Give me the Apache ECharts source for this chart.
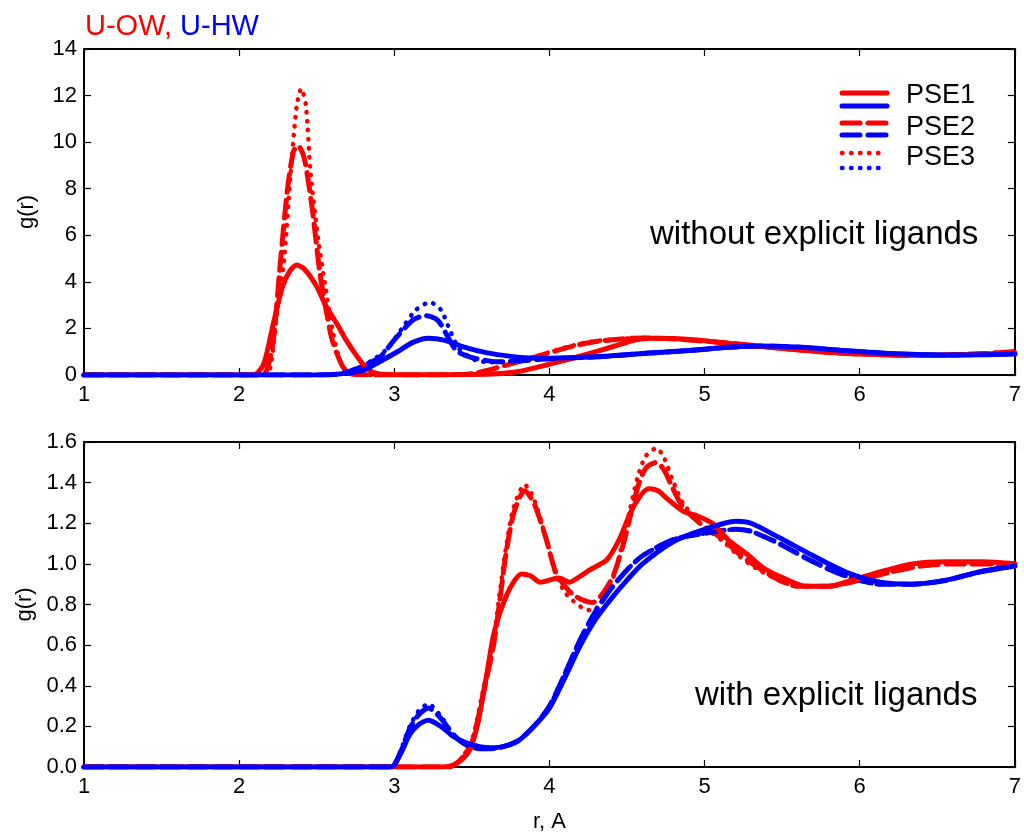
<!DOCTYPE html>
<html>
<head>
<meta charset="utf-8">
<script src="https://cdn.jsdelivr.net/npm/echarts@6/dist/echarts.min.js"></script>
<style>
  html, body { margin: 0; padding: 0; background: #fff; }
  #chart { width: 1024px; height: 834px; }
</style>
</head>
<body>
<div id="chart"></div>
<script>
// g(r) curves, [r, g] pairs
// top panel: without explicit ligands
const topOW1 = [[1,0],[2.0,0],[2.1,0.02],[2.16,0.5],[2.22,2.2],[2.28,3.8],[2.33,4.5],[2.37,4.72],[2.42,4.55],[2.5,3.8],[2.56,2.95],[2.63,2.2],[2.69,1.5],[2.76,0.8],[2.82,0.3],[2.88,0.08],[2.95,0.02],[3.2,0.01],[3.5,0.02],[3.66,0.05],[3.8,0.15],[3.98,0.43],[4.15,0.72],[4.3,1.0],[4.45,1.3],[4.55,1.5],[4.65,1.58],[4.8,1.57],[4.95,1.5],[5.1,1.4],[5.3,1.27],[5.6,1.08],[5.9,0.93],[6.2,0.86],[6.5,0.85],[6.8,0.9],[7,0.96]];
const topHW1 = [[1,0],[2.5,0],[2.6,0.02],[2.7,0.08],[2.8,0.2],[2.9,0.55],[3.02,1.0],[3.12,1.4],[3.22,1.58],[3.32,1.5],[3.45,1.2],[3.6,0.95],[3.75,0.8],[3.87,0.73],[4.0,0.72],[4.3,0.78],[4.6,0.92],[4.9,1.05],[5.16,1.2],[5.35,1.25],[5.6,1.2],[5.9,1.05],[6.2,0.92],[6.5,0.86],[6.8,0.87],[7,0.9]];
const topOW2 = [[1,0],[2.1,0],[2.17,0.1],[2.22,1.5],[2.26,4.4],[2.31,7.9],[2.35,9.6],[2.38,9.85],[2.42,9.3],[2.47,7.2],[2.52,4.4],[2.56,2.8],[2.6,1.5],[2.65,0.6],[2.69,0.15],[2.75,0.02],[3.0,0],[3.45,0.02],[3.6,0.2],[3.75,0.48],[3.87,0.7],[3.98,0.92],[4.09,1.13],[4.19,1.3],[4.3,1.44],[4.45,1.54],[4.6,1.59],[4.8,1.55],[5.0,1.45],[5.3,1.28],[5.6,1.08],[5.9,0.93],[6.2,0.86],[6.5,0.85],[6.8,0.92],[7,1.0]];
const topHW2 = [[1,0],[2.55,0],[2.65,0.05],[2.75,0.25],[2.85,0.55],[2.91,0.78],[3.01,1.58],[3.12,2.36],[3.2,2.55],[3.28,2.35],[3.34,1.7],[3.4,1.05],[3.5,0.75],[3.66,0.57],[3.8,0.6],[4.0,0.7],[4.3,0.78],[4.6,0.92],[4.9,1.05],[5.16,1.19],[5.35,1.24],[5.6,1.19],[5.9,1.04],[6.2,0.91],[6.5,0.86],[6.8,0.88],[7,0.92]];
const topOW3 = [[1,0],[2.15,0],[2.2,0.3],[2.25,3.0],[2.29,5.0],[2.33,8.5],[2.37,11.5],[2.40,12.3],[2.43,11.6],[2.46,8.7],[2.51,5.8],[2.56,3.6],[2.6,2.0],[2.65,0.6],[2.7,0.15],[2.76,0.02],[3.0,0],[3.45,0.02],[3.6,0.2],[3.75,0.5],[3.87,0.72],[3.98,0.94],[4.09,1.16],[4.19,1.33],[4.3,1.46],[4.45,1.55],[4.6,1.6],[4.8,1.56],[5.0,1.46],[5.3,1.28],[5.6,1.08],[5.9,0.93],[6.2,0.86],[6.5,0.86],[6.8,0.93],[7,1.02]];
const topHW3 = [[1,0],[2.55,0],[2.65,0.05],[2.75,0.25],[2.85,0.6],[2.95,1.1],[3.05,2.0],[3.14,2.8],[3.23,3.12],[3.3,2.8],[3.36,1.9],[3.42,1.1],[3.52,0.65],[3.62,0.55],[3.8,0.6],[4.0,0.7],[4.3,0.78],[4.6,0.92],[4.9,1.05],[5.16,1.19],[5.35,1.24],[5.6,1.19],[5.9,1.04],[6.2,0.91],[6.5,0.86],[6.8,0.88],[7,0.92]];

// bottom panel: with explicit ligands
const botOW1 = [[1,0],[3.3,0],[3.38,0.01],[3.44,0.04],[3.49,0.09],[3.54,0.22],[3.59,0.43],[3.64,0.65],[3.7,0.8],[3.76,0.9],[3.82,0.95],[3.88,0.94],[3.94,0.91],[4.0,0.92],[4.06,0.93],[4.13,0.91],[4.2,0.94],[4.26,0.97],[4.37,1.02],[4.45,1.12],[4.54,1.28],[4.64,1.37],[4.7,1.36],[4.76,1.32],[4.86,1.26],[4.94,1.24],[5.05,1.2],[5.15,1.12],[5.27,1.05],[5.38,0.98],[5.48,0.94],[5.65,0.89],[5.8,0.89],[5.91,0.91],[6.13,0.96],[6.34,1.0],[6.56,1.01],[6.8,1.01],[7,1.0]];
const botHW1 = [[1,0],[2.97,0],[3.0,0.01],[3.05,0.08],[3.1,0.16],[3.16,0.21],[3.22,0.23],[3.3,0.2],[3.38,0.15],[3.46,0.12],[3.55,0.1],[3.62,0.095],[3.7,0.1],[3.8,0.13],[3.9,0.2],[4.0,0.29],[4.1,0.44],[4.2,0.6],[4.3,0.73],[4.4,0.83],[4.5,0.92],[4.6,1.0],[4.8,1.11],[5.0,1.17],[5.2,1.21],[5.3,1.2],[5.48,1.13],[5.7,1.04],[5.91,0.96],[6.13,0.91],[6.34,0.9],[6.56,0.92],[6.77,0.96],[7,0.99]];
const botOW2 = [[1,0],[3.35,0],[3.42,0.03],[3.5,0.12],[3.57,0.35],[3.64,0.6],[3.68,0.82],[3.72,1.05],[3.77,1.25],[3.84,1.36],[3.9,1.3],[3.98,1.12],[4.04,0.96],[4.1,0.89],[4.15,0.85],[4.22,0.82],[4.28,0.81],[4.34,0.85],[4.41,0.94],[4.47,1.08],[4.52,1.23],[4.57,1.38],[4.62,1.47],[4.69,1.5],[4.74,1.46],[4.79,1.38],[4.86,1.28],[4.97,1.2],[5.12,1.12],[5.22,1.05],[5.35,0.98],[5.48,0.92],[5.6,0.89],[5.8,0.89],[6.0,0.92],[6.2,0.96],[6.4,0.99],[6.6,1.0],[7,1.0]];
const botHW2 = [[1,0],[2.97,0],[3.0,0.01],[3.05,0.09],[3.1,0.19],[3.16,0.26],[3.22,0.29],[3.3,0.24],[3.38,0.16],[3.46,0.11],[3.55,0.09],[3.62,0.09],[3.7,0.1],[3.8,0.13],[3.9,0.2],[4.0,0.3],[4.1,0.46],[4.2,0.63],[4.3,0.77],[4.4,0.88],[4.5,0.97],[4.6,1.04],[4.8,1.12],[5.0,1.15],[5.2,1.17],[5.3,1.16],[5.48,1.1],[5.7,1.01],[5.91,0.94],[6.13,0.9],[6.34,0.9],[6.56,0.92],[6.77,0.96],[7,0.99]];
const botOW3 = [[1,0],[3.35,0],[3.42,0.03],[3.5,0.13],[3.57,0.37],[3.64,0.63],[3.68,0.86],[3.72,1.08],[3.77,1.28],[3.84,1.39],[3.9,1.32],[3.98,1.12],[4.04,0.95],[4.1,0.86],[4.15,0.82],[4.22,0.78],[4.28,0.77],[4.34,0.82],[4.41,0.93],[4.47,1.1],[4.52,1.27],[4.57,1.43],[4.62,1.53],[4.69,1.57],[4.74,1.52],[4.79,1.42],[4.86,1.3],[4.97,1.2],[5.12,1.11],[5.22,1.04],[5.35,0.97],[5.48,0.92],[5.6,0.89],[5.8,0.89],[6.0,0.92],[6.2,0.96],[6.4,0.99],[6.6,1.0],[7,1.0]];
const botHW3 = [[1,0],[2.97,0],[3.0,0.01],[3.05,0.1],[3.1,0.2],[3.16,0.28],[3.22,0.31],[3.3,0.25],[3.38,0.16],[3.46,0.11],[3.55,0.09],[3.62,0.09],[3.7,0.1],[3.8,0.13],[3.9,0.2],[4.0,0.3],[4.1,0.46],[4.2,0.63],[4.3,0.77],[4.4,0.88],[4.5,0.97],[4.6,1.04],[4.8,1.12],[5.0,1.15],[5.2,1.17],[5.3,1.16],[5.48,1.1],[5.7,1.01],[5.91,0.94],[6.13,0.9],[6.34,0.9],[6.56,0.92],[6.77,0.96],[7,0.99]];

const rTicks = [1, 2, 3, 4, 5, 6, 7];
const legendNames = ['PSE1', 'PSE2', 'PSE3'];

const RED = '#ff0000';
const BLUE = '#0000ff';
const FONT = '"Liberation Sans", Arial, sans-serif';

const STYLES = {
    PSE1: { width: 5, type: 'solid' },
    PSE2: { width: 5, type: [18, 8] },
    PSE3: { width: 4.5, type: [0.5, 8.5] },
};

function xAxisFor(grid, top, name) {
    return {
        type: 'value', gridIndex: grid, min: rTicks[0], max: rTicks[rTicks.length - 1], interval: 1,
        position: top ? 'top' : 'bottom',
        name: name || '', nameLocation: 'middle', nameGap: 44,
        nameTextStyle: { fontFamily: FONT, fontSize: 22, color: '#000' },
        axisLine: { onZero: false, lineStyle: { color: '#000', width: 2 } },
        axisTick: { inside: true, length: 7, lineStyle: { color: '#000', width: 1.2 } },
        axisLabel: { show: !top, fontFamily: FONT, fontSize: 22, color: '#000', margin: 9 },
        splitLine: { show: false },
    };
}

function yAxisFor(grid, right, max, step, digits) {
    return {
        type: 'value', gridIndex: grid, min: 0, max: max, interval: step,
        position: right ? 'right' : 'left',
        name: right ? '' : 'g(r)', nameLocation: 'middle', nameGap: 46,
        nameTextStyle: { fontFamily: FONT, fontSize: 22, color: '#000' },
        axisLine: { onZero: false, lineStyle: { color: '#000', width: 2 } },
        axisTick: { inside: true, length: 7, lineStyle: { color: '#000', width: 1.2 } },
        axisLabel: { show: !right, fontFamily: FONT, fontSize: 22, color: '#000', margin: 7,
            formatter: v => v.toFixed(digits) },
        splitLine: { show: false },
    };
}

// axis 0 = top panel, axis 2 = bottom panel (1 and 3 are the frame axes)
function line(data, color, pse, axis) {
    const st = STYLES[pse];
    return {
        type: 'line', data, xAxisIndex: axis, yAxisIndex: axis,
        showSymbol: false, smooth: 0.25,
        lineStyle: { color, width: st.width, type: st.type, cap: 'round', join: 'round' },
        silent: true, animation: false,
    };
}

// legend drawn by hand: each entry has a red and a blue sample
const legendGraphics = [];
const legendRows = [
    { red: 93, blue: 106, text: 96 },
    { red: 123, blue: 135, text: 128 },
    { red: 153, blue: 168, text: 158 },
];
legendNames.forEach((n, i) => {
    const st = STYLES[n];
    const dash = st.type === 'solid' ? null : st.type;
    [['red', RED], ['blue', BLUE]].forEach(([k, c]) => {
        legendGraphics.push({
            type: 'line',
            shape: { x1: 842, y1: legendRows[i][k], x2: 887, y2: legendRows[i][k] },
            style: { stroke: c, lineWidth: st.width, lineDash: dash, lineCap: 'round' },
        });
    });
    legendGraphics.push({
        type: 'text', x: 906, y: legendRows[i].text,
        style: { text: n, fontFamily: FONT, fontSize: 27, fill: '#000', verticalAlign: 'middle' },
    });
});

const chart = echarts.init(document.getElementById('chart'), null, { renderer: 'canvas' });
chart.setOption({
    backgroundColor: '#fff',
    animation: false,
    grid: [
        { left: 84, right: 8, top: 49, height: 326 },
        { left: 84, right: 8, top: 442, height: 326 },
    ],
    xAxis: [xAxisFor(0, false), xAxisFor(0, true), xAxisFor(1, false, 'r, A'), xAxisFor(1, true)],
    yAxis: [yAxisFor(0, false, 14, 2, 0), yAxisFor(0, true, 14, 2, 0),
            yAxisFor(1, false, 1.6, 0.2, 1), yAxisFor(1, true, 1.6, 0.2, 1)],
    series: [
        line(topOW3, RED, 'PSE3', 0), line(topHW3, BLUE, 'PSE3', 0),
        line(topOW2, RED, 'PSE2', 0), line(topHW2, BLUE, 'PSE2', 0),
        line(topOW1, RED, 'PSE1', 0), line(topHW1, BLUE, 'PSE1', 0),
        line(botOW3, RED, 'PSE3', 2), line(botHW3, BLUE, 'PSE3', 2),
        line(botOW2, RED, 'PSE2', 2), line(botHW2, BLUE, 'PSE2', 2),
        line(botOW1, RED, 'PSE1', 2), line(botHW1, BLUE, 'PSE1', 2),
    ],
    graphic: [
        {
            type: 'text', x: 85, y: 27,
            style: {
                text: '{r|U-OW,} {b|U-HW}', verticalAlign: 'middle',
                rich: {
                    r: { fontFamily: FONT, fontSize: 29, fill: RED },
                    b: { fontFamily: FONT, fontSize: 29, fill: BLUE },
                },
                fontFamily: FONT, fontSize: 29,
            },
        },
        { type: 'text', x: 650, y: 235,
          style: { text: 'without explicit ligands', fontFamily: FONT, fontSize: 33, fill: '#000', verticalAlign: 'middle' } },
        { type: 'text', x: 695, y: 696,
          style: { text: 'with explicit ligands', fontFamily: FONT, fontSize: 33, fill: '#000', verticalAlign: 'middle' } },
        ...legendGraphics,
    ],
});
</script>
</body>
</html>
